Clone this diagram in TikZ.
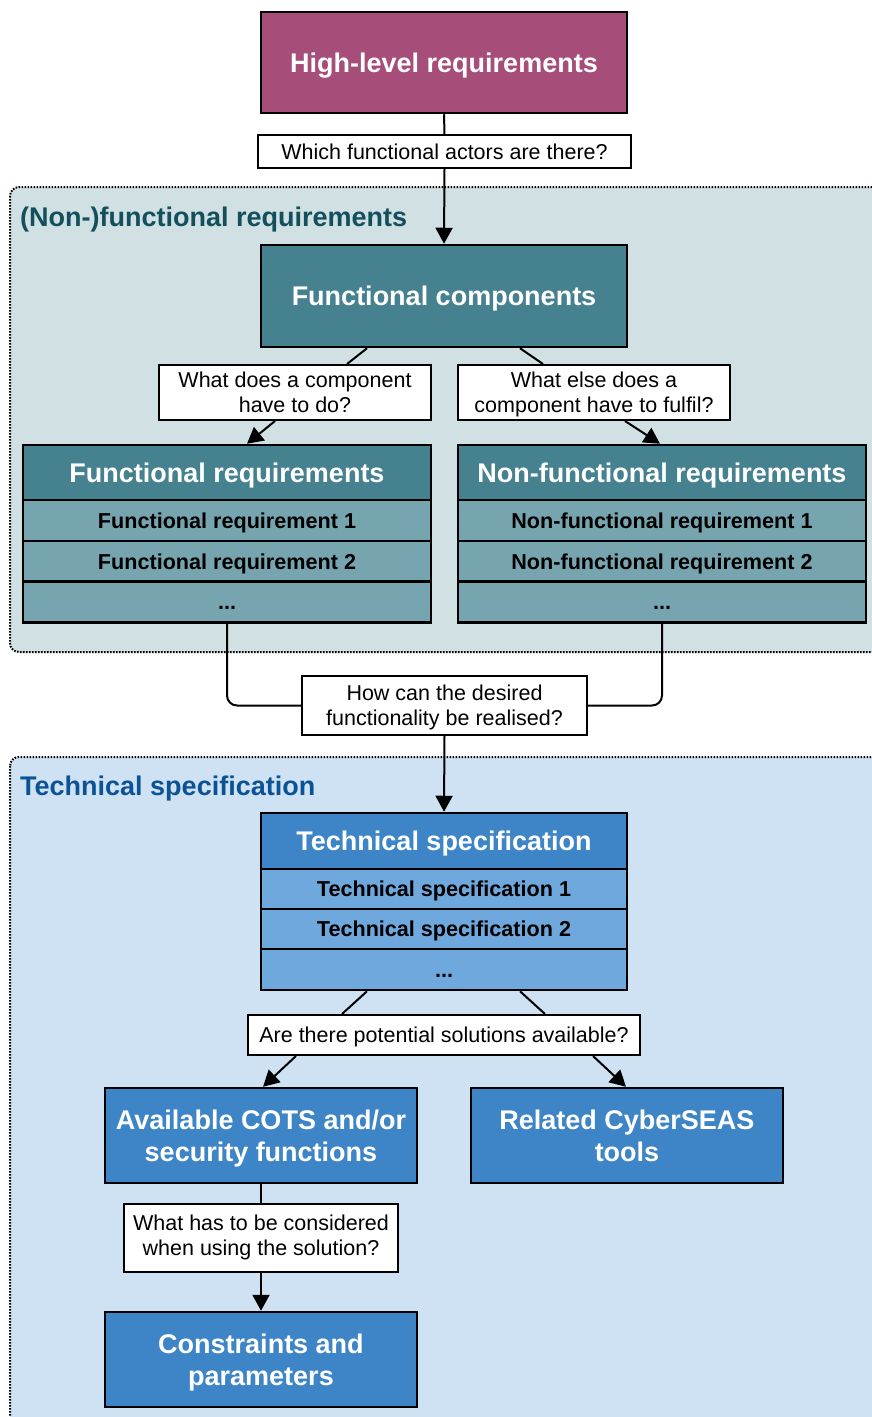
\documentclass[tikz,border=0pt]{standalone}
\usepackage{fontspec}
\setmainfont{Liberation Sans}
\usetikzlibrary{arrows.meta}
\definecolor{hlfill}{HTML}{A64D79}
\definecolor{grponefill}{HTML}{D0E0E3}
\definecolor{grponetext}{HTML}{134F5C}
\definecolor{tealdark}{HTML}{45818E}
\definecolor{teallight}{HTML}{76A5AF}
\definecolor{grptwofill}{HTML}{CFE2F3}
\definecolor{grptwotext}{HTML}{0B5394}
\definecolor{bluedark}{HTML}{3D85C6}
\definecolor{bluelight}{HTML}{6FA8DC}
\newcommand\bigstrut{\rule[-6pt]{0pt}{32pt}}
\newcommand\qstrut{\rule[-5pt]{0pt}{24pt}}
\newcommand\qstrutlow{\rule[-5pt]{0pt}{17pt}}
\begin{document}
\begin{tikzpicture}[x=1pt,y=-1pt,
  box/.style={draw=black, line width=2.5pt, inner sep=0pt, align=center, text=white,
    font=\bfseries\fontsize{27}{32}\selectfont},
  single/.style={text height=23.2pt, text depth=3.8pt},
  rowbox/.style={box, text=black, font=\bfseries\fontsize{21.6}{25}\selectfont,
    text height=18.6pt, text depth=3pt, minimum height=41pt},
  question/.style={draw=black, fill=white, line width=2pt, inner sep=0pt, align=center,
    font=\fontsize{21.5}{25}\selectfont},
  qsingle/.style={text height=18.5pt, text depth=3pt},
  grp/.style={draw=black, line width=2pt, dash pattern=on 1.6pt off 1.4pt, rounded corners=9pt},
  grplabel/.style={anchor=base west, inner sep=0pt, font=\bfseries\fontsize{27}{31}\selectfont},
  conn/.style={line width=2pt},
  arr/.style={conn, -{Triangle[length=16pt,width=17pt]}}
]
\useasboundingbox (0,0) rectangle (871,1417);
% groups
\draw[grp, fill=grponefill] (10,187) rectangle (885,652);
\draw[grp, fill=grptwofill] (10,757) rectangle (885,1430);
\node[grplabel, text=grponetext] (g1label) at (20,226) {(Non-)functional requirements};
\node[grplabel, text=grptwotext] (g2label) at (20,795) {Technical specification};

% top
\node[box, fill=hlfill, single, minimum width=366pt, minimum height=101pt] (hl) at (444,62.5) {High-level requirements};
\node[question, qsingle, minimum width=373pt, minimum height=33pt] (q1) at (444.5,151.5) {Which functional actors are there?};
\node[box, fill=tealdark, single, minimum width=366pt, minimum height=102pt] (fc) at (444,296) {Functional components};

\node[question, minimum width=272pt, minimum height=55pt] (q2) at (295,392.5) {\qstrut What does a component\\have to do?\qstrut};
\node[question, minimum width=272pt, minimum height=55pt] (q3) at (594,392.5) {\qstrut What else does a\\component have to fulfil?\qstrut};

% functional requirements table
\node[box, fill=tealdark, single, minimum width=408pt, minimum height=55pt] (frh) at (227,472.5) {Functional requirements};
\node[rowbox, fill=teallight, minimum width=408pt] (fr1) at (227,520.5) {Functional requirement 1};
\node[rowbox, fill=teallight, minimum width=408pt] (fr2) at (227,561.5) {Functional requirement 2};
\node[rowbox, fill=teallight, minimum width=408pt] (fr3) at (227,602) {...};

\node[box, fill=tealdark, single, minimum width=408pt, minimum height=55pt] (nfrh) at (662,472.5) {Non-functional requirements};
\node[rowbox, fill=teallight, minimum width=408pt] (nfr1) at (662,520.5) {Non-functional requirement 1};
\node[rowbox, fill=teallight, minimum width=408pt] (nfr2) at (662,561.5) {Non-functional requirement 2};
\node[rowbox, fill=teallight, minimum width=408pt] (nfr3) at (662,602) {...};

\node[question, minimum width=285pt, minimum height=59pt] (q4) at (444.5,705.5) {\qstrut How can the desired\\functionality be realised?\qstrut};

% technical specification table
\node[box, fill=bluedark, single, minimum width=366pt, minimum height=56pt] (tsh) at (444,841) {Technical specification};
\node[rowbox, fill=bluelight, minimum width=366pt, minimum height=40pt] (ts1) at (444,889) {Technical specification 1};
\node[rowbox, fill=bluelight, minimum width=366pt, minimum height=40pt] (ts2) at (444,929) {Technical specification 2};
\node[rowbox, fill=bluelight, minimum width=366pt] (ts3) at (444,969.5) {...};

\node[question, qsingle, minimum width=392pt, minimum height=40pt] (q5) at (444,1035) {Are there potential solutions available?};

\node[box, fill=bluedark, minimum width=312pt, minimum height=95pt] (cots) at (261,1135.5) {\bigstrut Available COTS and/or\\security functions\bigstrut};
\node[box, fill=bluedark, minimum width=312pt, minimum height=95pt] (cyber) at (627,1135.5) {\bigstrut Related CyberSEAS\\tools\bigstrut};

\node[question, minimum width=274pt, minimum height=68pt] (q6) at (261,1238) {\qstrutlow What has to be considered\\when using the solution?\qstrutlow};
\node[box, fill=bluedark, minimum width=312pt, minimum height=95pt] (cons) at (261,1359.5) {\bigstrut Constraints and\\parameters\bigstrut};

% connectors
\draw[conn] (hl.south) -- (q1.north);
\draw[arr] (q1.south) -- (fc.north);
\draw[conn] ([xshift=-77pt]fc.south) -- ([xshift=52pt]q2.north);
\draw[conn] ([xshift=76pt]fc.south) -- ([xshift=-51pt]q3.north);
\draw[arr] ([xshift=-20pt]q2.south) -- ([xshift=20pt]frh.north);
\draw[arr] ([xshift=31pt]q3.south) -- ([xshift=-2pt]nfrh.north);
\draw[conn, rounded corners=10pt] (fr3.south) |- (q4.west);
\draw[conn, rounded corners=10pt] (nfr3.south) |- (q4.east);
\draw[arr] (q4.south) -- (tsh.north);
\draw[conn] ([xshift=-77pt]ts3.south) -- ([xshift=-102pt]q5.north);
\draw[conn] ([xshift=76pt]ts3.south) -- ([xshift=101pt]q5.north);
\draw[arr] ([xshift=-148pt]q5.south) -- ([xshift=2pt]cots.north);
\draw[arr] ([xshift=149pt]q5.south) -- ([xshift=-1pt]cyber.north);
\draw[conn] (cots.south) -- (q6.north);
\draw[arr] (q6.south) -- (cons.north);
\end{tikzpicture}
\end{document}
